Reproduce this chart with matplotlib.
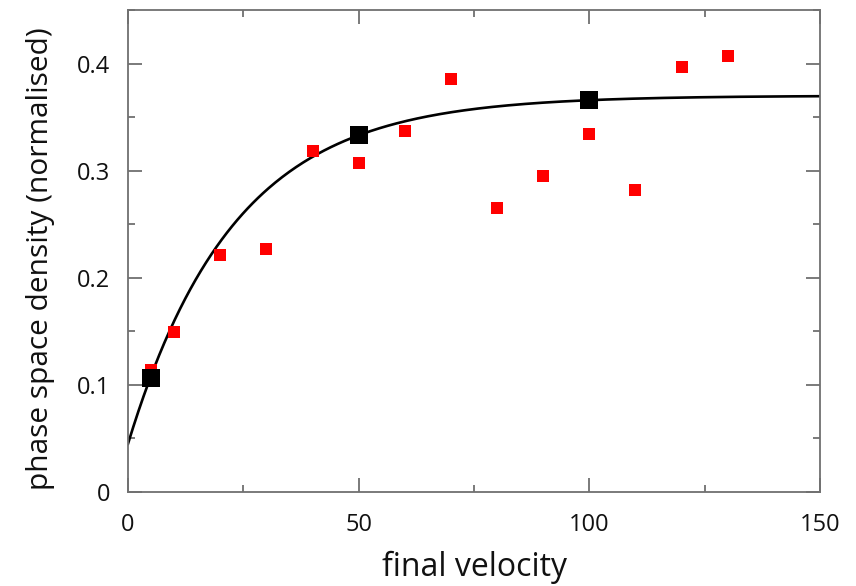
import matplotlib.pyplot as plt
import numpy as np
from matplotlib.ticker import MultipleLocator

plt.rcParams['font.family'] = ['Open Sans', 'DejaVu Sans']

# measured phase space density at each final velocity
velocity = [5, 10, 20, 30, 40, 50, 60, 70, 80, 90, 100, 110, 120, 130]
density = [0.114, 0.149, 0.221, 0.227, 0.318, 0.307, 0.337, 0.386,
           0.265, 0.295, 0.334, 0.282, 0.397, 0.407]

# averaged points
avg_velocity = [5, 50, 100]
avg_density = [0.106, 0.333, 0.366]

# saturating exponential fit: y = plateau - (plateau - start) * exp(-v / scale)
plateau = 0.37
start = 0.045
scale = 23.0

axis_grey = '#707070'

fig = plt.figure(figsize=(8.56, 5.86), dpi=100)
ax = fig.add_axes([128 / 856, 1 - 492 / 586, 692 / 856, 482 / 586])

v = np.linspace(0, 150, 400)
ax.plot(v, plateau - (plateau - start) * np.exp(-v / scale), color='black', lw=1.9, zorder=2)
ax.plot(velocity, density, 's', color='#ff0000', ms=9.3, mew=0, zorder=3)
ax.plot(avg_velocity, avg_density, 's', color='black', ms=13, mew=0, zorder=4)

ax.set_xlim(0, 150)
ax.set_ylim(0, 0.45)
ax.xaxis.set_major_locator(MultipleLocator(50))
ax.xaxis.set_minor_locator(MultipleLocator(25))
ax.yaxis.set_major_locator(MultipleLocator(0.1))
ax.yaxis.set_minor_locator(MultipleLocator(0.05))
ax.set_yticks([0, 0.1, 0.2, 0.3, 0.4])
ax.set_yticklabels(['0', '0.1', '0.2', '0.3', '0.4'])

for s in ax.spines.values():
    s.set_color(axis_grey)
    s.set_linewidth(1.3)

ax.tick_params(which='both', direction='in', top=True, right=True, color=axis_grey,
               labelsize=17, labelcolor='#111111')
ax.tick_params(which='major', length=10, width=1.3)
ax.tick_params(which='minor', length=5, width=1.3)
ax.tick_params(axis='y', which='major', pad=13)
ax.tick_params(axis='x', which='major', pad=15)

ax.set_xlabel('final velocity', fontsize=23, color='#111111', labelpad=10)
ax.set_ylabel('phase space density (normalised)', fontsize=21.5, color='#111111')
ax.yaxis.set_label_coords(-0.106, 0.485)

fig.savefig('out.png', dpi=100)
